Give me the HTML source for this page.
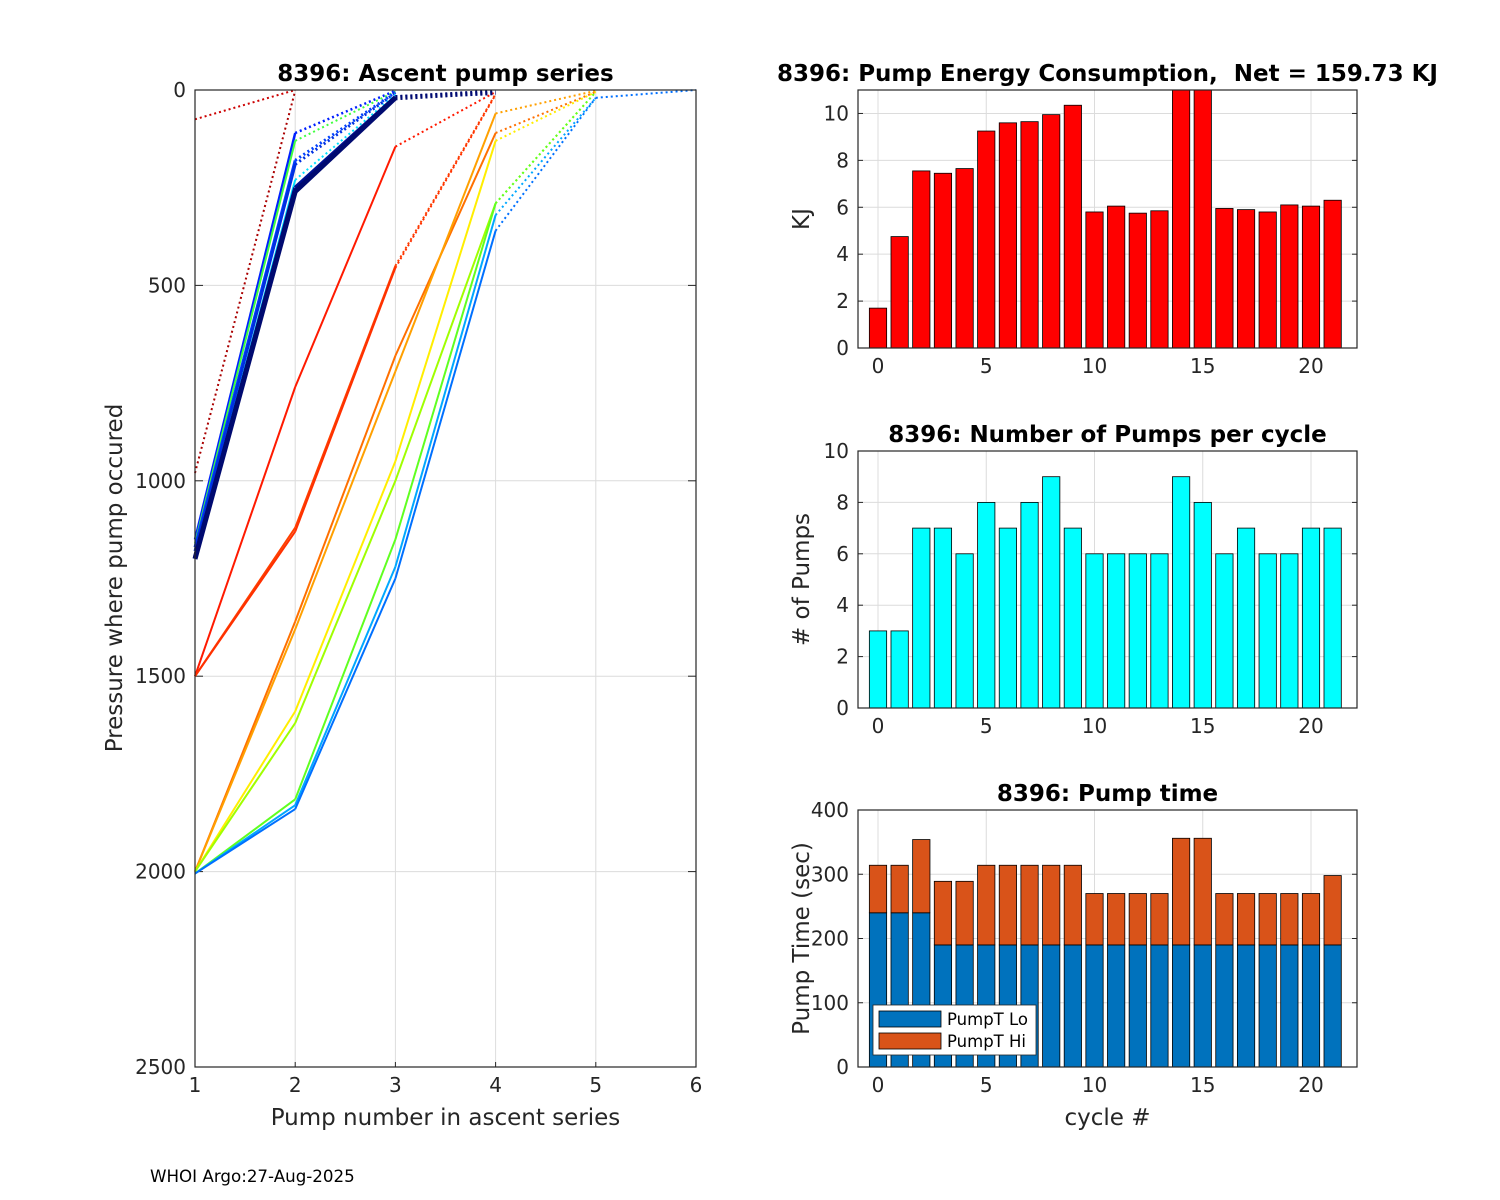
<!DOCTYPE html>
<html><head><meta charset="utf-8">
<style>
body{margin:0;background:#fff;}
svg{display:block;font-family:"DejaVu Sans","Liberation Sans",sans-serif;}
</style></head>
<body>
<svg id="fig" width="1500" height="1200" viewBox="0 0 1500 1200" xmlns="http://www.w3.org/2000/svg">
<rect width="1500" height="1200" fill="#fff"/>
<g id="left"></g>
<g id="energy"></g>
<g id="pumps"></g>
<g id="ptime"></g>
<text x="150" y="1182" font-size="16.7" fill="#000">WHOI Argo:27-Aug-2025</text>
</svg>
<script>
// ---- data ----
const seriesPressures = [
  [980, 2],
  [75, 0],
  [1500, 760, 145, 5],
  [1500, 1120, 450, 10],
  [1500, 1130, 455, 12],
  [2000, 1360, 680, 110, 5],
  [2000, 1380, 720, 60, 2],
  [2000, 1590, 950, 130, 5],
  [2000, 1620, 1000, 290, 5],
  [2005, 1815, 1150, 290, 5],
  [2005, 1830, 1220, 320, 20],
  [2005, 1840, 1250, 360, 20, 0],
  [1150, 110, 2],
  [1160, 130, 4],
  [1170, 180, 6],
  [1180, 190, 8],
  [1190, 230, 12],
  [1195, 250, 18, 8],
  [1200, 260, 20, 5]
];
const seriesColors = ['#aa0000','#cc0000','#ff1a00','#ff4000','#ff3000','#ff7000','#ffa000','#ffee00','#a0ff00','#60ff20','#00a8ff','#0070ff','#0020ff','#40ff40','#0040ff','#0030e0','#00e0ff','#001090','#000a70'];
const seriesDashFrom = [0,0,2,2,2,3,3,3,3,3,3,3,1,1,1,1,1,2,2];
const seriesWidths = [2,2,2,2,2,2,2,2,2,2,2,2,2.5,2,3,3,2,4,5];
const pressureTicks = [0,500,1000,1500,2000,2500];
const pumpNumTicks = [1,2,3,4,5,6];

const cycles = [0,1,2,3,4,5,6,7,8,9,10,11,12,13,14,15,16,17,18,19,20,21];
const energyKJ = [1.7,4.75,7.55,7.45,7.65,9.25,9.6,9.65,9.95,10.35,5.8,6.05,5.75,5.85,12,12,5.95,5.9,5.8,6.1,6.05,6.3];
const pumpCount = [3,3,7,7,6,8,7,8,9,7,6,6,6,6,9,8,6,7,6,6,7,7];
const pumpTLo = [240,240,240,190,190,190,190,190,190,190,190,190,190,190,190,190,190,190,190,190,190,190];
const pumpTHi = [74,74,114,99,99,124,124,124,124,124,80,80,80,80,166,166,80,80,80,80,80,108];
const cycleTicks = [0,5,10,15,20];
const energyTicks = [0,2,4,6,8,10];
const pumpTicks = [0,2,4,6,8,10];
const timeTicks = [0,100,200,300,400];

const NS='http://www.w3.org/2000/svg';
const TF=20, LF=23;
function mk(parent, tag, attrs, txt){
  const e=document.createElementNS(NS,tag);
  for(const k in attrs) e.setAttribute(k,attrs[k]);
  if(txt!==undefined) e.textContent=txt;
  parent.appendChild(e); return e;
}
function linScale(d0,d1,r0,r1){return v=>r0+(v-d0)*(r1-r0)/(d1-d0);}

// ---- left chart ----
(function(){
  const g=document.getElementById('left');
  const L=195,R=696,T=90,B=1067;
  const x=linScale(1,6,L,R), y=linScale(0,2500,T,B);
  mk(g,'rect',{x:L,y:T,width:R-L,height:B-T,fill:'#fff'});
  pumpNumTicks.forEach(t=>{
    const l=mk(g,'line',{x1:x(t),x2:x(t),y1:T,y2:B,stroke:'#dcdcdc','stroke-width':1});
     
    const tx=mk(g,'text',{x:x(t),y:B+25,'font-size':TF,'text-anchor':'middle',fill:'#262626'},t);
     
    mk(g,'line',{x1:x(t),x2:x(t),y1:B,y2:B-5,stroke:'#262626'});
  });
  pressureTicks.forEach(t=>{
    const l=mk(g,'line',{x1:L,x2:R,y1:y(t),y2:y(t),stroke:'#dcdcdc','stroke-width':1});
     
    const tx=mk(g,'text',{x:L-9,y:y(t)+7,'font-size':TF,'text-anchor':'end',fill:'#262626'},t);
     
    mk(g,'line',{x1:L,x2:L+8,y1:y(t),y2:y(t),stroke:'#262626'});
    mk(g,'line',{x1:R,x2:R-8,y1:y(t),y2:y(t),stroke:'#262626'});
  });
  seriesPressures.forEach((ps,i)=>{
    for(let k=0;k<ps.length-1;k++){
      const dotted=k>=seriesDashFrom[i];
      const seg=mk(g,'line',{x1:x(k+1),y1:y(ps[k]),x2:x(k+2),y2:y(ps[k+1]),stroke:seriesColors[i],
        'stroke-width':seriesWidths[i],'stroke-dasharray':dotted?'2,3':'none'});
      
      
    }
  });
  mk(g,'rect',{x:L,y:T,width:R-L,height:B-T,fill:'none',stroke:'#262626','stroke-width':1.2});
  const t1=mk(g,'text',{x:(L+R)/2,y:81,'font-size':LF,'font-weight':'bold','text-anchor':'middle'},'8396: Ascent pump series');
   
  const xl=mk(g,'text',{x:(L+R)/2,y:1125,'font-size':LF,'text-anchor':'middle',fill:'#262626'},'Pump number in ascent series');
   
  const yl=mk(g,'text',{x:0,y:0,'font-size':LF,'text-anchor':'middle',fill:'#262626',transform:'translate(122,578) rotate(-90)'},'Pressure where pump occured');
   
})();

// ---- bar charts ----
function barAxes(id,T,B,ymax,yTicks,title,ylabel,xlabel){
  const g=document.getElementById(id);
  const L=858,R=1357;
  const x=linScale(0,20,878,1311), y=linScale(0,ymax,B,T);
  cycleTicks.forEach(t=>{
    const l=mk(g,'line',{x1:x(t),x2:x(t),y1:T,y2:B,stroke:'#dcdcdc'});
     
    const tx=mk(g,'text',{x:x(t),y:B+25,'font-size':TF,'text-anchor':'middle',fill:'#262626'},t);
     
    mk(g,'line',{x1:x(t),x2:x(t),y1:B,y2:B-5,stroke:'#262626'});
  });
  yTicks.forEach(t=>{
    const l=mk(g,'line',{x1:L,x2:R,y1:y(t),y2:y(t),stroke:'#dcdcdc'});
     
    const tx=mk(g,'text',{x:L-9,y:y(t)+7,'font-size':TF,'text-anchor':'end',fill:'#262626'},t);
     
    mk(g,'line',{x1:L,x2:L+5,y1:y(t),y2:y(t),stroke:'#262626'});
    mk(g,'line',{x1:R,x2:R-5,y1:y(t),y2:y(t),stroke:'#262626'});
  });
  const tt=mk(g,'text',{x:(L+R)/2+0,y:T-9,'font-size':LF,'font-weight':'bold','text-anchor':'middle'},title);
   
  const yl=mk(g,'text',{x:0,y:0,'font-size':LF,'text-anchor':'middle',fill:'#262626',transform:'translate(809,'+((T+B)/2)+') rotate(-90)'},ylabel);
   
  if(xlabel){
    const xl=mk(g,'text',{x:(L+R)/2,y:B+58,'font-size':LF,'text-anchor':'middle',fill:'#262626'},xlabel);
     
  }
  return {g,x,y,L,R,T,B};
}
function finishAxes(a){
  mk(a.g,'rect',{x:a.L,y:a.T,width:a.R-a.L,height:a.B-a.T,fill:'none',stroke:'#262626','stroke-width':1.2});
}
const BW=0.8;
(function(){
  const a=barAxes('energy',90,348,11,energyTicks,'8396: Pump Energy Consumption,\u00a0 Net = 159.73 KJ','KJ');
  const w=a.x(BW)-a.x(0);
  cycles.forEach((c,i)=>{
    const v=Math.min(energyKJ[i],11);
    const r=mk(a.g,'rect',{x:a.x(c)-w/2,y:a.y(v),width:w,height:a.y(0)-a.y(v),fill:'#ff0000',stroke:'#000','stroke-width':0.8});
     
  });
  finishAxes(a);
})();
(function(){
  const a=barAxes('pumps',451,708,10,pumpTicks,'8396: Number of Pumps per cycle','# of Pumps');
  const w=a.x(BW)-a.x(0);
  cycles.forEach((c,i)=>{
    const v=pumpCount[i];
    const r=mk(a.g,'rect',{x:a.x(c)-w/2,y:a.y(v),width:w,height:a.y(0)-a.y(v),fill:'#00ffff',stroke:'#000','stroke-width':0.8});
     
  });
  finishAxes(a);
})();
(function(){
  const a=barAxes('ptime',810,1067,400,timeTicks,'8396: Pump time','Pump Time (sec)','cycle #');
  const w=a.x(BW)-a.x(0);
  cycles.forEach((c,i)=>{
    const lo=pumpTLo[i], hi=pumpTHi[i];
    const r1=mk(a.g,'rect',{x:a.x(c)-w/2,y:a.y(lo),width:w,height:a.y(0)-a.y(lo),fill:'#0072bd',stroke:'#000','stroke-width':0.8});
     
    const r2=mk(a.g,'rect',{x:a.x(c)-w/2,y:a.y(lo+hi),width:w,height:a.y(lo)-a.y(lo+hi),fill:'#d95319',stroke:'#000','stroke-width':0.8});
     
  });
  const lg=mk(a.g,'g',{});
   
  mk(lg,'rect',{x:873,y:1005,width:163,height:50,fill:'#fff',stroke:'#262626','stroke-width':0.8});
  mk(lg,'rect',{x:879,y:1011,width:62,height:16,fill:'#0072bd',stroke:'#000','stroke-width':0.8});
  mk(lg,'rect',{x:879,y:1033,width:62,height:16,fill:'#d95319',stroke:'#000','stroke-width':0.8});
  const e1=mk(lg,'text',{x:947,y:1025,'font-size':16.5,fill:'#000'},'PumpT Lo');
   
  const e2=mk(lg,'text',{x:947,y:1047,'font-size':16.5,fill:'#000'},'PumpT Hi');
   
  finishAxes(a);
})();
</script>
</body></html>
